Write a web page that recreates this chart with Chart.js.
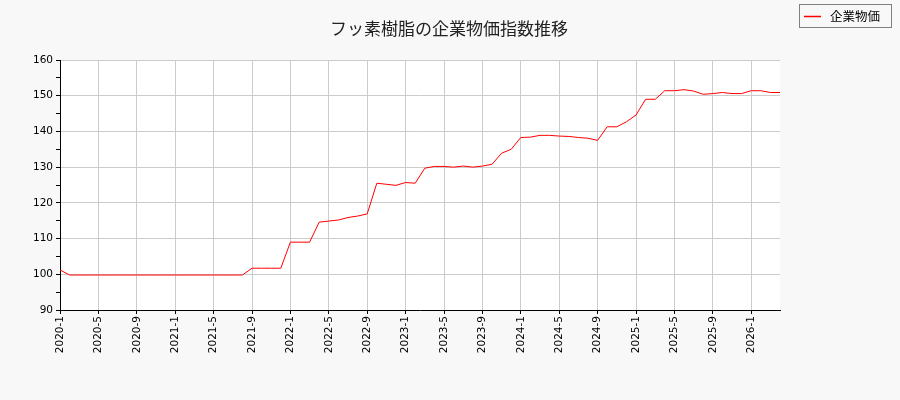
<!DOCTYPE html>
<html><head><meta charset="utf-8">
<script src="https://cdn.jsdelivr.net/npm/chart.js@4"></script>
<style>html,body{margin:0;padding:0;background:#f8f8f8;}#wrap{width:900px;height:400px;}</style>
</head><body><div id="wrap"><canvas id="c" width="900" height="400"></canvas></div>
<script>
const titleText = "フッ素樹脂の企業物価指数推移";
const seriesLabel = "企業物価";
const categories = [];
for (let y = 2020; y <= 2026; y++) for (let m = 1; m <= 12; m++) categories.push(y + "-" + m);
categories.length = 76; // 2020-1 .. 2026-4
const values = [
 101.2, 99.8, 99.8, 99.8, 99.8, 99.8, 99.8, 99.8, 99.8, 99.8, 99.8, 99.8,
 99.8, 99.8, 99.8, 99.8, 99.8, 99.8, 99.8, 99.8, 101.7, 101.7, 101.7, 101.7,
 109.0, 109.0, 109.0, 114.6, 114.9, 115.2, 115.9, 116.3, 116.9, 125.5, 125.2, 124.9,
 125.7, 125.5, 129.7, 130.2, 130.2, 130.0, 130.3, 130.0, 130.3, 130.8, 133.9, 135.0,
 138.3, 138.4, 138.9, 138.9, 138.7, 138.6, 138.3, 138.1, 137.5, 141.3, 141.3, 142.7,
 144.6, 149.0, 149.0, 151.4, 151.4, 151.7, 151.3, 150.4, 150.6, 150.9, 150.6, 150.6,
 151.4, 151.4, 150.9, 150.9
];
const yTicks = [90, 100, 110, 120, 130, 140, 150, 160];

const bgPlugin = {
  id: 'bg',
  beforeDraw(chart) {
    const {ctx, chartArea: a} = chart;
    ctx.save();
    ctx.fillStyle = '#f8f8f8';
    ctx.fillRect(0, 0, chart.width, chart.height);
    ctx.fillStyle = '#ffffff';
    ctx.fillRect(a.left, a.top, a.right - a.left, a.bottom - a.top);
    ctx.restore();
  }
};
const textPlugin = {
  id: 'texts',
  afterDraw(chart) {
    const ctx = chart.ctx;
    ctx.save();
    // title
    ctx.fillStyle = '#222';
    ctx.font = '17px "Noto Sans CJK JP"';
    ctx.textAlign = 'center';
    ctx.textBaseline = 'middle';
    ctx.fillText(titleText, 449, 29);
    // legend
    ctx.textAlign = 'left';
    ctx.fillStyle = '#f8f8f8';
    ctx.fillRect(799.5, 4.5, 92, 23);
    ctx.strokeStyle = '#808080';
    ctx.lineWidth = 1;
    ctx.strokeRect(799.5, 4.5, 92, 23);
    ctx.strokeStyle = '#ff0000';
    ctx.lineWidth = 1.5;
    ctx.beginPath(); ctx.moveTo(804, 16.5); ctx.lineTo(821, 16.5); ctx.stroke();
    ctx.fillStyle = '#000';
    ctx.font = '12.5px "Noto Sans CJK JP"';
    ctx.fillText(chart.data.datasets[0].label, 830, 16.5);
    ctx.restore();
  }
};

new Chart(document.getElementById('c'), {
  type: 'line',
  data: {
    datasets: [{
      label: seriesLabel,
      data: values.map((v, i) => ({x: i, y: v})),
      borderColor: '#ff0000',
      borderWidth: 1,
      pointRadius: 0,
      tension: 0,
      fill: false
    }]
  },
  options: {
    responsive: false,
    animation: false,
    devicePixelRatio: 1,
    layout: {padding: {left: 0, right: 120, top: 60, bottom: 0}},
    plugins: {
      legend: {display: false},
      tooltip: {enabled: false},
      title: {display: false}
    },
    scales: {
      x: {
        type: 'linear', min: 0, max: 75,
        afterBuildTicks(s) { s.ticks = categories.map((c, i) => ({value: i})).filter(t => t.value % 4 === 0); },
        afterFit(s) { s.height = 90; },
        ticks: {
          autoSkip: false, minRotation: 90, maxRotation: 90, padding: 2,
          color: '#000', font: {family: 'DejaVu Sans', size: 10.5},
          callback: (v) => categories[v]
        },
        grid: {color: '#cccccc', tickColor: '#000', tickLength: 4, lineWidth: 1},
        border: {color: '#000', width: 1}
      },
      y: {
        min: 90, max: 160,
        afterBuildTicks(s) {
          const t = [];
          for (let v = yTicks[0]; v <= yTicks[yTicks.length - 1]; v += 5) t.push({value: v});
          s.ticks = t;
        },
        afterFit(s) { s.width = 60; },
        ticks: {
          padding: 3, color: '#000', font: {family: 'DejaVu Sans', size: 10.5},
          callback: (v) => (yTicks.includes(v) ? String(v) : '')
        },
        grid: {
          color: (c) => (c.tick && yTicks.includes(c.tick.value) ? '#cccccc' : 'rgba(0,0,0,0)'),
          tickColor: '#000', tickLength: 4, lineWidth: 1
        },
        border: {color: '#000', width: 1}
      }
    }
  },
  plugins: [bgPlugin, textPlugin]
});
</script></body></html>
